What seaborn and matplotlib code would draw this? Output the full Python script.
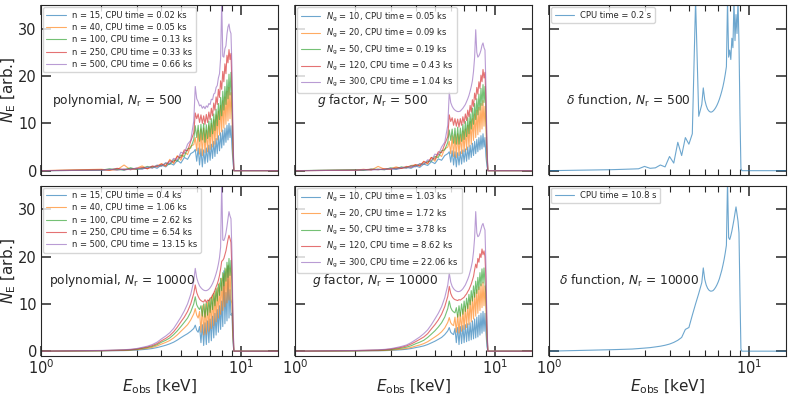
import matplotlib
matplotlib.use("Agg")
import matplotlib.pyplot as plt
import matplotlib.ticker as mticker
import seaborn as sns

# energy grid [keV]
energy_lo = [2.0, 2.2, 2.4, 2.6, 2.8, 3.0, 3.2, 3.4, 3.6, 3.8,
             4.0, 4.2, 4.4, 4.6, 4.8, 5.0, 5.2, 5.4, 5.6, 5.8]
energy_hi = [5.9, 6.0, 6.1, 6.2, 6.3, 6.4, 6.5, 6.6, 6.7, 6.8, 6.9,
             7.0, 7.1, 7.2, 7.3, 7.4, 7.5, 7.6, 7.7, 7.8, 7.9,
             8.0, 8.1, 8.2, 8.3, 8.4, 8.5, 8.6, 8.7, 8.8, 8.9, 9.0, 9.1]
energy = [1.0] + energy_lo + energy_hi + [9.2, 9.3, 15.3]

# polynomial, N_r = 500
poly500_labels = ["n = 15, CPU time = 0.02 ks", "n = 40, CPU time = 0.05 ks",
                  "n = 100, CPU time = 0.13 ks", "n = 250, CPU time = 0.33 ks",
                  "n = 500, CPU time = 0.66 ks"]
poly500_lo = [
    [0.1, 0.2, 0.4, 0.1, 0.5, 0.3, 0.4, 0.6, 0.9, 0.5, 1.2, 0.8, 1.6, 1.2, 2.2, 1.6, 2.8, 2.4, 3.6, 4.0],
    [0.3, 0.1, 0.2, 1.2, 0.2, 0.5, 1.0, 0.4, 0.8, 1.0, 1.5, 0.9, 2.4, 1.5, 3.2, 2.2, 4.0, 3.4, 5.2, 5.5],
    [0.1, 0.4, 0.2, 0.2, 0.6, 0.3, 0.5, 0.9, 0.6, 1.1, 1.0, 1.6, 1.3, 2.3, 2.0, 3.3, 3.0, 4.6, 4.8, 6.6],
    [0.2, 0.1, 0.5, 0.2, 0.3, 0.4, 0.7, 0.4, 1.0, 0.8, 1.4, 1.1, 2.1, 1.8, 3.0, 2.7, 4.4, 4.2, 6.2, 8.0],
    [0.1, 0.3, 0.1, 0.4, 0.2, 0.6, 0.3, 0.8, 0.5, 1.2, 0.9, 1.7, 1.5, 2.6, 2.3, 3.9, 3.6, 5.6, 6.4, 10.5],
]
poly500_hi = [
    [4.5, 2.0, 4.8, 1.2, 4.6, 0.8, 4.4, 1.5, 4.8, 1.8, 5.4, 2.2, 5.6, 2.6, 6.2, 3.0, 6.8, 3.6, 7.4, 4.2,
     8.0, 4.8, 8.6, 5.4, 9.0, 6.0, 9.6, 6.5, 10.0, 7.0, 9.5, 5.0, 2.0],
    [7.0, 4.2, 8.5, 3.5, 8.8, 3.2, 9.0, 3.8, 8.6, 4.0, 9.5, 4.5, 10.0, 5.0, 10.8, 5.6, 11.8, 6.5, 12.6, 7.5,
     13.8, 8.2, 14.8, 9.0, 15.6, 9.8, 16.8, 10.5, 17.6, 11.0, 16.5, 12.0, 4.0],
    [9.5, 7.0, 9.6, 6.2, 9.8, 6.5, 10.0, 6.0, 9.7, 6.8, 10.5, 7.2, 11.0, 7.8, 12.0, 8.5, 13.0, 9.5, 14.2, 10.8,
     15.5, 11.6, 16.8, 12.8, 17.8, 14.0, 19.2, 15.2, 20.4, 16.0, 20.8, 15.0, 6.0],
    [12.2, 11.0, 12.0, 10.2, 11.8, 10.0, 11.6, 9.8, 11.9, 10.2, 12.4, 10.8, 13.2, 11.6, 14.3, 12.8, 15.6, 14.0,
     17.2, 15.5, 19.0, 17.2, 21.0, 18.8, 22.6, 20.5, 24.4, 22.8, 25.6, 23.5, 24.8, 18.0, 7.0],
    [17.8, 15.2, 14.6, 13.7, 13.9, 13.2, 13.6, 13.1, 13.7, 13.4, 14.2, 14.0, 15.1, 15.0, 16.2, 16.4, 17.6, 18.0,
     19.6, 20.5, 23.8, 36.0, 24.2, 24.0, 25.8, 26.4, 28.9, 30.4, 31.0, 29.6, 29.0, 22.0, 9.0],
]

# g factor, N_r = 500
g500_labels = [r"$N_\mathrm{g}$ = 10, CPU time = 0.05 ks", r"$N_\mathrm{g}$ = 20, CPU time = 0.09 ks",
               r"$N_\mathrm{g}$ = 50, CPU time = 0.19 ks", r"$N_\mathrm{g}$ = 120, CPU time = 0.43 ks",
               r"$N_\mathrm{g}$ = 300, CPU time = 1.04 ks"]
g500_lo = [
    [0.1, 0.1, 0.3, 0.2, 0.3, 0.4, 0.3, 0.5, 0.7, 0.5, 1.0, 0.7, 1.4, 1.1, 1.9, 1.5, 2.5, 2.2, 3.2, 3.6],
    [0.1, 0.3, 0.1, 0.9, 0.3, 0.4, 0.8, 0.5, 0.7, 1.1, 1.2, 1.0, 2.0, 1.4, 2.8, 2.0, 3.6, 3.0, 4.6, 5.0],
    [0.2, 0.1, 0.3, 0.3, 0.2, 0.6, 0.4, 0.8, 0.6, 1.0, 1.0, 1.4, 1.4, 2.0, 2.0, 3.0, 2.8, 4.2, 4.4, 6.0],
    [0.1, 0.2, 0.3, 0.2, 0.4, 0.3, 0.6, 0.5, 0.9, 0.7, 1.3, 1.0, 1.9, 1.6, 2.8, 2.4, 4.0, 3.8, 5.6, 7.2],
    [0.1, 0.2, 0.1, 0.3, 0.2, 0.5, 0.3, 0.7, 0.5, 1.0, 0.8, 1.5, 1.3, 2.3, 2.1, 3.5, 3.3, 5.0, 6.0, 9.6],
]
g500_hi = [
    [4.0, 1.8, 4.2, 1.2, 4.0, 0.8, 3.8, 1.2, 4.0, 1.4, 4.4, 1.8, 4.6, 2.0, 5.0, 2.4, 5.4, 2.8, 5.8, 3.2,
     6.2, 3.6, 6.6, 4.0, 7.0, 4.4, 7.4, 4.6, 7.8, 5.0, 7.0, 3.0, 1.0],
    [6.2, 3.6, 7.4, 3.0, 7.6, 2.8, 7.8, 3.2, 7.6, 3.6, 8.4, 4.0, 8.8, 4.4, 9.6, 5.0, 10.4, 5.6, 11.0, 6.4,
     12.0, 7.0, 12.8, 7.6, 13.4, 8.2, 14.2, 8.8, 14.8, 9.4, 13.6, 9.0, 3.0],
    [8.6, 6.4, 8.8, 5.8, 9.0, 5.6, 9.2, 5.6, 9.0, 6.2, 9.8, 6.6, 10.4, 7.2, 11.2, 7.8, 12.0, 8.8, 13.2, 9.8,
     14.2, 10.8, 15.2, 11.8, 16.2, 12.8, 17.4, 13.8, 18.2, 14.4, 17.8, 12.0, 4.0],
    [11.8, 10.4, 11.2, 9.6, 11.0, 9.4, 10.9, 9.2, 11.0, 9.6, 11.4, 10.0, 12.0, 10.6, 12.8, 11.4, 13.8, 12.4,
     15.0, 13.6, 16.4, 15.0, 17.6, 16.2, 18.8, 17.4, 20.2, 18.8, 21.4, 19.6, 20.8, 15.0, 5.0],
    [16.6, 14.4, 13.6, 13.1, 12.8, 12.6, 12.5, 12.5, 12.6, 12.9, 13.2, 13.6, 14.0, 14.6, 15.2, 15.9, 16.8, 17.8,
     19.0, 21.0, 24.0, 29.8, 25.0, 24.0, 24.3, 24.8, 25.5, 26.5, 27.0, 26.0, 25.5, 18.0, 6.0],
]

# delta function, N_r = 500
delta500_label = "CPU time = 0.2 s"
delta500_lo = [0.2, 0.25, 0.3, 0.35, 0.4, 0.9, 0.5, 0.6, 1.2, 0.8, 3.0, 1.6, 6.0, 3.2, 7.0, 5.6, 7.8, 36.0, 11.5, 14.0]
delta500_hi = [17.5, 15.0, 13.8, 13.0, 12.6, 12.4, 12.4, 12.6, 12.9, 13.3, 13.8, 14.4, 15.1, 15.9, 16.8, 17.8,
               19.0, 20.4, 22.0, 36.0, 24.0, 25.5, 23.5, 28.0, 26.0, 36.0, 27.5, 33.0, 29.0, 36.0, 27.0, 12.0, 0.5]

# polynomial, N_r = 10000
poly10k_labels = ["n = 15, CPU time = 0.4 ks", "n = 40, CPU time = 1.06 ks",
                  "n = 100, CPU time = 2.62 ks", "n = 250, CPU time = 6.54 ks",
                  "n = 500, CPU time = 13.15 ks"]
poly10k_lo = [
    [0.06, 0.08, 0.1, 0.12, 0.16, 0.22, 0.32, 0.42, 0.56, 0.76, 1.0, 1.25, 1.55, 1.9, 2.35, 2.85, 3.3, 3.7, 4.2, 4.8],
    [0.08, 0.11, 0.14, 0.17, 0.23, 0.32, 0.46, 0.6, 0.8, 1.1, 1.5, 1.85, 2.25, 2.8, 3.45, 4.2, 4.9, 5.6, 6.6, 7.9],
    [0.1, 0.14, 0.18, 0.22, 0.29, 0.4, 0.58, 0.76, 1.0, 1.37, 1.9, 2.3, 2.8, 3.5, 4.3, 5.2, 6.1, 7.0, 8.3, 10.0],
    [0.12, 0.16, 0.2, 0.25, 0.33, 0.46, 0.67, 0.88, 1.18, 1.6, 2.2, 2.7, 3.3, 4.1, 5.1, 6.2, 7.2, 8.4, 10.0, 12.2],
    [0.15, 0.2, 0.25, 0.3, 0.4, 0.55, 0.8, 1.05, 1.4, 1.9, 2.6, 3.2, 3.9, 4.8, 6.0, 7.2, 8.5, 10.0, 12.0, 14.8],
]
poly10k_hi = [
    [5.5, 4.4, 4.0, 5.2, 1.8, 5.6, 1.2, 6.0, 1.4, 6.4, 1.8, 6.8, 2.2, 7.4, 2.8, 8.0, 3.4, 8.8, 4.0, 9.6,
     4.6, 10.6, 5.2, 17.0, 5.8, 12.4, 6.4, 18.0, 7.0, 13.0, 7.6, 8.0, 2.0],
    [9.0, 7.6, 7.0, 8.4, 4.0, 9.6, 3.4, 10.0, 3.6, 10.4, 4.2, 11.0, 4.8, 11.8, 5.4, 12.6, 6.2, 13.4, 7.0, 14.4,
     7.8, 15.4, 8.6, 16.4, 9.4, 17.4, 10.2, 18.2, 10.8, 17.6, 11.0, 10.0, 3.0],
    [11.5, 9.8, 9.2, 8.8, 9.6, 7.4, 10.0, 7.2, 10.2, 7.6, 10.8, 8.2, 11.4, 8.8, 12.2, 9.6, 13.2, 10.6, 14.2,
     11.8, 15.4, 12.8, 16.6, 13.8, 17.6, 14.8, 18.8, 15.6, 19.6, 16.0, 19.2, 14.0, 5.0],
    [14.0, 12.4, 11.6, 11.0, 10.7, 10.5, 10.4, 10.9, 10.3, 10.8, 10.6, 11.2, 11.3, 11.9, 12.3, 12.9, 13.6, 14.2,
     15.0, 16.0, 17.4, 19.0, 19.2, 19.6, 20.4, 21.2, 22.4, 23.6, 24.5, 23.8, 23.0, 17.0, 6.5],
    [17.5, 15.5, 14.5, 13.8, 13.4, 13.1, 12.9, 12.8, 12.8, 12.9, 13.1, 13.4, 13.8, 14.3, 14.9, 15.6, 16.4, 17.3,
     18.4, 19.8, 22.0, 36.0, 23.5, 23.4, 24.0, 25.0, 26.4, 28.0, 29.5, 28.6, 28.0, 21.0, 8.0],
]

# g factor, N_r = 10000
g10k_labels = [r"$N_\mathrm{g}$ = 10, CPU time = 1.03 ks", r"$N_\mathrm{g}$ = 20, CPU time = 1.72 ks",
               r"$N_\mathrm{g}$ = 50, CPU time = 3.78 ks", r"$N_\mathrm{g}$ = 120, CPU time = 8.62 ks",
               r"$N_\mathrm{g}$ = 300, CPU time = 22.06 ks"]
g10k_lo = [
    [0.04, 0.06, 0.07, 0.08, 0.11, 0.16, 0.23, 0.3, 0.4, 0.55, 0.75, 0.92, 1.12, 1.4, 1.75, 2.1, 2.5, 2.9, 3.5, 4.3],
    [0.06, 0.08, 0.1, 0.12, 0.16, 0.23, 0.33, 0.43, 0.57, 0.78, 1.07, 1.3, 1.6, 2.0, 2.5, 3.0, 3.5, 4.1, 4.9, 6.1],
    [0.09, 0.12, 0.15, 0.18, 0.24, 0.33, 0.48, 0.63, 0.84, 1.14, 1.56, 1.9, 2.3, 2.9, 3.6, 4.3, 5.1, 6.0, 7.2, 9.0],
    [0.12, 0.16, 0.2, 0.23, 0.31, 0.43, 0.62, 0.82, 1.1, 1.5, 2.0, 2.5, 3.0, 3.7, 4.7, 5.6, 6.6, 7.8, 9.4, 11.6],
    [0.14, 0.19, 0.24, 0.28, 0.38, 0.52, 0.75, 1.0, 1.3, 1.8, 2.4, 3.0, 3.7, 4.5, 5.6, 6.8, 8.0, 9.4, 11.3, 14.0],
]
g10k_hi = [
    [5.0, 4.0, 3.7, 3.5, 4.8, 1.8, 5.0, 1.4, 5.2, 1.6, 5.4, 1.8, 5.6, 2.0, 5.8, 2.2, 6.0, 2.4, 6.4, 2.6,
     6.8, 2.8, 7.2, 3.0, 7.6, 3.4, 8.0, 3.8, 8.4, 4.2, 8.0, 4.0, 1.0],
    [7.1, 6.0, 5.6, 5.4, 7.2, 4.0, 7.8, 3.8, 8.2, 4.2, 8.8, 4.6, 9.4, 5.0, 10.0, 5.6, 10.8, 6.2, 11.6, 6.8,
     12.4, 7.4, 13.0, 8.0, 13.6, 8.6, 14.2, 9.2, 14.6, 9.6, 13.8, 9.0, 3.0],
    [10.6, 9.2, 8.6, 8.3, 8.1, 9.2, 7.2, 9.6, 7.4, 10.0, 7.8, 10.6, 8.4, 11.2, 9.0, 12.0, 9.8, 12.8, 10.6, 13.8,
     11.4, 14.8, 12.2, 15.6, 13.0, 16.6, 13.8, 17.4, 14.4, 17.6, 14.6, 12.0, 4.0],
    [13.7, 12.2, 11.5, 11.1, 10.9, 10.8, 10.7, 10.9, 10.8, 11.0, 11.2, 11.4, 11.8, 12.1, 12.6, 13.0, 13.6, 14.2,
     15.0, 15.8, 17.2, 18.4, 17.6, 19.6, 18.8, 20.6, 19.8, 21.6, 20.4, 21.2, 20.0, 15.0, 5.0],
    [16.5, 14.6, 13.7, 13.2, 12.9, 12.7, 12.6, 12.6, 12.7, 12.9, 13.2, 13.6, 14.0, 14.6, 15.2, 15.9, 16.8, 17.8,
     19.0, 21.0, 24.0, 29.5, 25.0, 24.2, 24.4, 25.0, 25.8, 26.6, 27.0, 26.2, 25.6, 18.0, 6.0],
]

# delta function, N_r = 10000
delta10k_label = "CPU time = 10.8 s"
delta10k_lo = [0.3, 0.35, 0.4, 0.45, 0.55, 0.65, 0.75, 0.9, 1.05, 1.25, 1.5, 1.85, 2.3, 2.9, 4.6, 5.0, 7.6, 10.0, 12.2, 14.5]
delta10k_hi = [17.6, 15.2, 14.0, 13.3, 12.9, 12.7, 12.7, 12.8, 13.1, 13.5, 14.0, 14.6, 15.3, 16.2, 17.1, 18.2,
               19.4, 20.8, 22.4, 36.0, 24.0, 23.6, 24.4, 25.4, 26.6, 27.8, 29.2, 30.5, 29.0, 27.5, 25.0, 12.0, 0.5]

panel_texts = [r"polynomial, $N_\mathrm{r}$ = 500", r"$g$ factor, $N_\mathrm{r}$ = 500",
               r"$\delta$ function, $N_\mathrm{r}$ = 500",
               r"polynomial, $N_\mathrm{r}$ = 10000", r"$g$ factor, $N_\mathrm{r}$ = 10000",
               r"$\delta$ function, $N_\mathrm{r}$ = 10000"]
text_x = [0.046, 0.094, 0.07, 0.035, 0.07, 0.04]


def full(lo, hi):
    return [0.0] + lo + hi + [0.0, 0.0, 0.0]


sns.set_style("ticks", {"xtick.direction": "in", "ytick.direction": "in"})
palette = sns.color_palette("tab10")

fig, axes = plt.subplots(2, 3, figsize=(7.9, 3.95), dpi=100, sharex=True, sharey=True)
fig.subplots_adjust(left=0.052, right=0.995, bottom=0.099, top=0.987, wspace=0.072, hspace=0.06)

panels = [
    (poly500_labels, poly500_lo, poly500_hi),
    (g500_labels, g500_lo, g500_hi),
    ([delta500_label], [delta500_lo], [delta500_hi]),
    (poly10k_labels, poly10k_lo, poly10k_hi),
    (g10k_labels, g10k_lo, g10k_hi),
    ([delta10k_label], [delta10k_lo], [delta10k_hi]),
]

for k, (ax, (labels, los, his)) in enumerate(zip(axes.flat, panels)):
    for i, lab in enumerate(labels):
        sns.lineplot(x=energy, y=full(los[i], his[i]), ax=ax, color=palette[i],
                     lw=0.8, alpha=0.65, label=lab, estimator=None)
    ax.set_xscale("log")
    ax.set_xlim(1, 15.3)
    ax.set_ylim(-1, 35)
    ax.set_yticks([0, 10, 20, 30])
    ax.xaxis.set_minor_formatter(mticker.NullFormatter())
    ax.tick_params(which="both", direction="in", top=True, right=True, labelsize=10.5)
    ax.tick_params(axis="x", which="both", pad=2)
    ax.tick_params(axis="y", which="both", pad=3)
    ax.tick_params(which="major", length=7, width=1.1)
    ax.tick_params(which="minor", length=4, width=0.8)
    ax.legend(loc="upper left", fontsize=6, borderaxespad=0.25, handlelength=2.3, labelspacing=0.4)
    ax.text(text_x[k], 0.44, panel_texts[k], transform=ax.transAxes, fontsize=8.8, va="center")
    ax.set_xlabel("")
    ax.set_ylabel("")

for ax in axes[:, 0]:
    ax.set_ylabel(r"$N_\mathrm{E}$ [arb.]", fontsize=11, labelpad=0)
for ax in axes[1, :]:
    ax.set_xlabel(r"$E_\mathrm{obs}$ [keV]", fontsize=11, labelpad=0)

fig.savefig("out.png", dpi=100)
